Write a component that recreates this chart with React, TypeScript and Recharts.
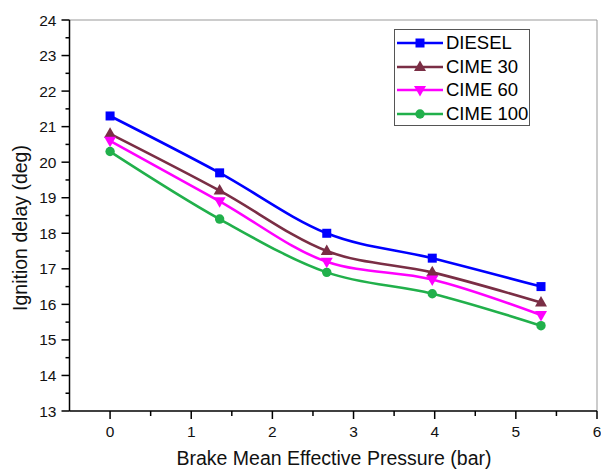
import React from "react";
import { LineChart, Line, XAxis, YAxis, ReferenceLine, Legend } from "recharts";

const bmep = [0, 1.35, 2.67, 3.97, 5.31];
const diesel = [21.3, 19.7, 18.0, 17.3, 16.5];
const cime30 = [20.8, 19.2, 17.5, 16.9, 16.05];
const cime60 = [20.6, 18.9, 17.2, 16.7, 15.7];
const cime100 = [20.3, 18.4, 16.9, 16.3, 15.4];

const xTicks = [0, 0.5, 1, 1.5, 2, 2.5, 3, 3.5, 4, 4.5, 5, 5.5, 6];
const yTicks = [
  13, 13.5, 14, 14.5, 15, 15.5, 16, 16.5, 17, 17.5, 18, 18.5, 19, 19.5, 20,
  20.5, 21, 21.5, 22, 22.5, 23, 23.5, 24
];

const series = [
  { key: "diesel", name: "DIESEL", color: "#0000FF", shape: "square" },
  { key: "cime30", name: "CIME 30", color: "#7A2E45", shape: "up" },
  { key: "cime60", name: "CIME 60", color: "#FF00FF", shape: "down" },
  { key: "cime100", name: "CIME 100", color: "#21B04B", shape: "circle" }
];

const data = bmep.map((x, i) => ({
  bmep: x,
  diesel: diesel[i],
  cime30: cime30[i],
  cime60: cime60[i],
  cime100: cime100[i]
}));

const FONT = '"Liberation Sans", Arial, sans-serif';

function Marker({ cx, cy, shape, color }: any) {
  if (cx == null || cy == null) return null;
  if (shape === "square") {
    return <rect x={cx - 4.5} y={cy - 4.5} width={9} height={9} fill={color} />;
  }
  if (shape === "up") {
    return <path d={`M${cx},${cy - 6.5}L${cx + 6},${cy + 4}L${cx - 6},${cy + 4}Z`} fill={color} />;
  }
  if (shape === "down") {
    return <path d={`M${cx},${cy + 6.5}L${cx + 6},${cy - 4}L${cx - 6},${cy - 4}Z`} fill={color} />;
  }
  return <circle cx={cx} cy={cy} r={4.7} fill={color} />;
}

function XTick({ x, y, payload }: any) {
  const major = Number.isInteger(payload.value);
  return (
    <g>
      <line x1={x} x2={x} y1={y} y2={y + (major ? 8 : 5)} stroke="#000" strokeWidth={1.5} />
      {major && (
        <text x={x} y={y + 26} textAnchor="middle" fontSize={15.5} fontFamily={FONT} fill="#111">
          {payload.value}
        </text>
      )}
    </g>
  );
}

function YTick({ x, y, payload }: any) {
  const major = Number.isInteger(payload.value);
  return (
    <g>
      <line x1={x - (major ? 8 : 4)} x2={x} y1={y} y2={y} stroke="#000" strokeWidth={1.5} />
      {major && (
        <text x={x - 13} y={y + 5.5} textAnchor="end" fontSize={15.5} fontFamily={FONT} fill="#111">
          {payload.value}
        </text>
      )}
    </g>
  );
}

function LegendBox() {
  return (
    <div
      style={{
        border: "1px solid #555",
        width: 134,
        height: 94,
        paddingTop: 1,
        boxSizing: "content-box",
        background: "#fff",
        fontFamily: FONT
      }}
    >
      {series.map((s) => (
        <div key={s.key} style={{ display: "flex", alignItems: "center", height: 23.8 }}>
          <svg width={50} height={20} style={{ display: "block" }}>
            <line x1={2} x2={48} y1={10} y2={10} stroke={s.color} strokeWidth={2.5} />
            <Marker cx={25} cy={10} shape={s.shape} color={s.color} />
          </svg>
          <span style={{ fontSize: 18.5, color: "#000", marginLeft: 1 }}>{s.name}</span>
        </div>
      ))}
    </div>
  );
}

export default function App() {
  return (
    <div style={{ position: "absolute", left: 0, top: 0, width: 601, height: 470, background: "#fff" }}>
      <LineChart width={601} height={470} data={data} margin={{ top: 20, right: 4, bottom: 0, left: 0 }}>
        <XAxis
          type="number"
          dataKey="bmep"
          domain={[-0.5, 6]}
          ticks={xTicks}
          interval={0}
          height={59}
          tickSize={0}
          tickMargin={0}
          tickLine={false}
          tick={<XTick />}
          axisLine={{ stroke: "#000", strokeWidth: 1.5 }}
          label={{
            content: () => (
              <text x={334} y={465} textAnchor="middle" fontSize={19.5} fontFamily={FONT} fill="#111">
                Brake Mean Effective Pressure (bar)
              </text>
            )
          }}
        />
        <YAxis
          type="number"
          domain={[13, 24]}
          ticks={yTicks}
          interval={0}
          width={69.5}
          tickSize={0}
          tickMargin={0}
          tickLine={false}
          tick={<YTick />}
          axisLine={{ stroke: "#000", strokeWidth: 1.5 }}
          label={{
            content: () => (
              <text
                x={0}
                y={0}
                transform="translate(26.5, 228) rotate(-90)"
                textAnchor="middle"
                fontSize={19.5}
                fontFamily={FONT}
                fill="#111"
              >
                Ignition delay (deg)
              </text>
            )
          }}
        />
        <ReferenceLine y={24} stroke="#999" strokeWidth={1} />
        <ReferenceLine x={6} stroke="#999" strokeWidth={1} />
        {series.map((s) => (
          <Line
            key={s.key}
            type="monotone"
            dataKey={s.key}
            name={s.name}
            stroke={s.color}
            strokeWidth={2.6}
            isAnimationActive={false}
            dot={(p: any) => <Marker key={`${s.key}-${p.index}`} cx={p.cx} cy={p.cy} shape={s.shape} color={s.color} />}
            activeDot={false}
          />
        ))}
        <Legend
          layout="vertical"
          align="center"
          verticalAlign="middle"
          content={() => <LegendBox />}
          wrapperStyle={{ left: 394, top: 29, width: 136, height: 97 }}
        />
      </LineChart>
    </div>
  );
}
